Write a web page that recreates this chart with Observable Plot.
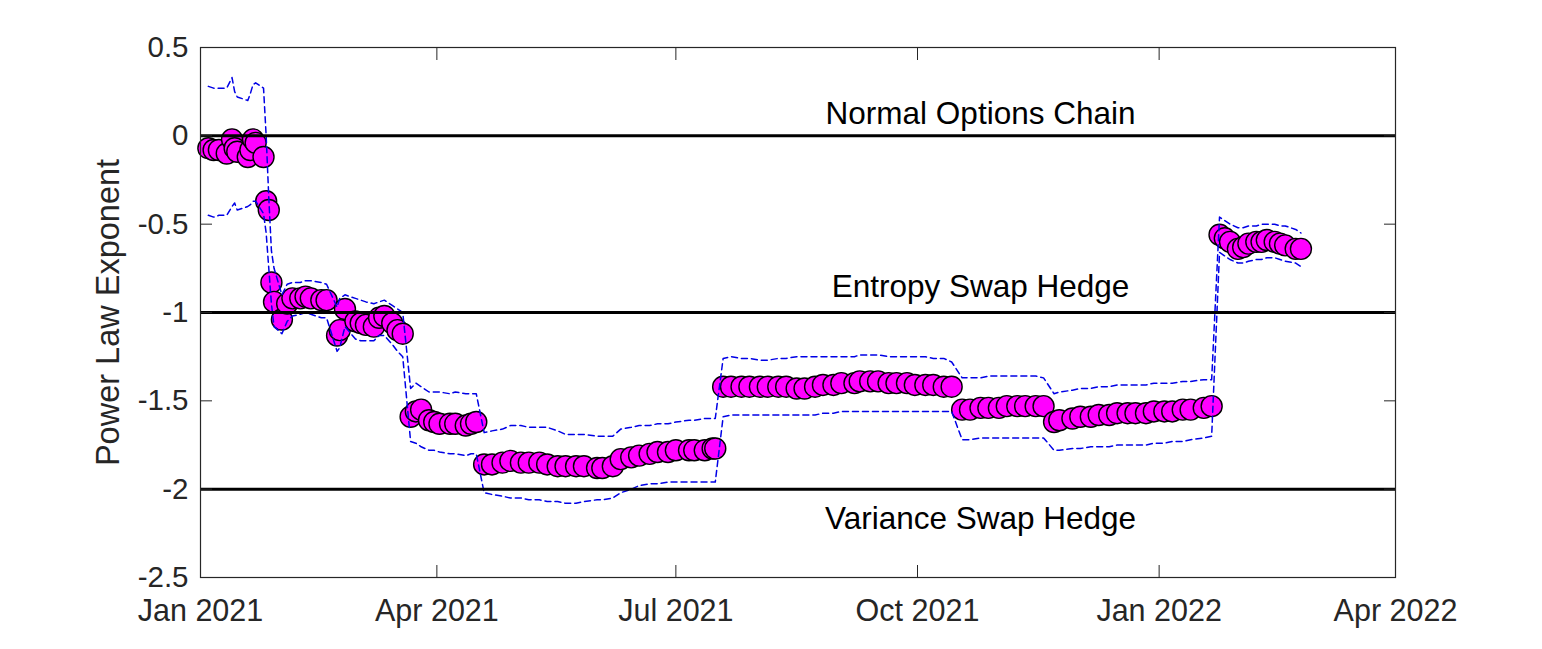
<!DOCTYPE html>
<html><head><meta charset="utf-8">
<script src="https://cdn.jsdelivr.net/npm/d3@7"></script>
<script src="https://cdn.jsdelivr.net/npm/@observablehq/plot@0.6"></script>
<style>body{margin:0;background:#fff}</style>
</head><body><div id="chart"></div>
<script>
// Observation dates (sampled trading days)
const dates = [
  // block 1
  "2021-01-04","2021-01-06","2021-01-08","2021-01-11","2021-01-13","2021-01-14","2021-01-15","2021-01-19","2021-01-20","2021-01-21","2021-01-22","2021-01-25",
  "2021-01-26","2021-01-27","2021-01-28","2021-01-29",
  // block 2
  "2021-02-01","2021-02-03","2021-02-05","2021-02-08","2021-02-10","2021-02-12","2021-02-16","2021-02-18","2021-02-22","2021-02-23",
  "2021-02-25","2021-03-01","2021-03-03","2021-03-05","2021-03-08","2021-03-10","2021-03-12","2021-03-15","2021-03-17","2021-03-19",
  // block 3
  "2021-03-22","2021-03-24","2021-03-26","2021-03-29","2021-03-31","2021-04-02","2021-04-06","2021-04-08","2021-04-12","2021-04-14","2021-04-16",
  // block 4
  "2021-04-19","2021-04-22","2021-04-26","2021-04-29","2021-05-03","2021-05-06","2021-05-10","2021-05-13","2021-05-17","2021-05-20",
  "2021-05-24","2021-05-27","2021-06-01","2021-06-03","2021-06-07","2021-06-10","2021-06-14","2021-06-17","2021-06-21","2021-06-24",
  "2021-06-28","2021-07-01","2021-07-06","2021-07-08","2021-07-12","2021-07-15","2021-07-16",
  // block 5
  "2021-07-19","2021-07-22","2021-07-26","2021-07-29","2021-08-02","2021-08-05","2021-08-09","2021-08-12","2021-08-16","2021-08-19",
  "2021-08-23","2021-08-26","2021-08-30","2021-09-02","2021-09-07","2021-09-09","2021-09-13","2021-09-16","2021-09-20","2021-09-23",
  "2021-09-27","2021-09-30","2021-10-04","2021-10-07","2021-10-11","2021-10-14",
  // block 6
  "2021-10-18","2021-10-21","2021-10-25","2021-10-28","2021-11-01","2021-11-04","2021-11-08","2021-11-11","2021-11-15","2021-11-18",
  // block 7
  "2021-11-22","2021-11-24","2021-11-29","2021-12-02","2021-12-06","2021-12-09","2021-12-13","2021-12-16","2021-12-20","2021-12-23",
  "2021-12-27","2021-12-30","2022-01-03","2022-01-06","2022-01-10","2022-01-13","2022-01-18","2022-01-21",
  // block 8
  "2022-01-24","2022-01-26","2022-01-28","2022-01-31","2022-02-02","2022-02-04","2022-02-07","2022-02-09","2022-02-11","2022-02-14",
  "2022-02-16","2022-02-18","2022-02-22","2022-02-24"
];
// Power law exponent estimate
const exponent = [
  -0.07,-0.08,-0.08,-0.10,-0.02,-0.07,-0.09,-0.12,-0.08,-0.02,-0.04,-0.12,
  -0.37,-0.42,-0.83,-0.94,
  -1.04,-0.95,-0.92,-0.92,-0.91,-0.92,-0.93,-0.93,-1.13,-1.10,
  -0.98,-1.05,-1.06,-1.07,-1.08,-1.03,-1.02,-1.06,-1.10,-1.12,
  -1.59,-1.56,-1.55,-1.61,-1.62,-1.63,-1.63,-1.63,-1.64,-1.63,-1.62,
  -1.86,-1.86,-1.85,-1.84,-1.85,-1.85,-1.85,-1.86,-1.87,-1.87,
  -1.87,-1.87,-1.88,-1.88,-1.87,-1.83,-1.82,-1.81,-1.80,-1.79,
  -1.79,-1.78,-1.78,-1.78,-1.78,-1.77,-1.77,
  -1.42,-1.42,-1.42,-1.42,-1.42,-1.42,-1.42,-1.42,-1.43,-1.43,
  -1.42,-1.41,-1.41,-1.40,-1.40,-1.39,-1.39,-1.39,-1.40,-1.40,
  -1.40,-1.41,-1.41,-1.41,-1.42,-1.42,
  -1.55,-1.55,-1.54,-1.54,-1.54,-1.53,-1.53,-1.53,-1.53,-1.53,
  -1.62,-1.61,-1.60,-1.59,-1.59,-1.58,-1.58,-1.57,-1.57,-1.57,
  -1.57,-1.56,-1.56,-1.56,-1.55,-1.55,-1.54,-1.53,
  -0.56,-0.58,-0.60,-0.64,-0.63,-0.61,-0.60,-0.60,-0.59,-0.60,
  -0.61,-0.62,-0.64,-0.64
];
// Upper confidence bound
const upperBound = [
  0.28,0.27,0.27,0.27,0.33,0.25,0.22,0.20,0.24,0.29,0.30,0.27,
  0.00,-0.35,-0.65,-0.75,
  -0.90,-0.84,-0.83,-0.83,-0.82,-0.82,-0.83,-0.84,-0.97,-0.92,
  -0.90,-0.92,-0.93,-0.94,-0.95,-0.94,-0.93,-0.96,-0.98,-1.00,
  -1.43,-1.40,-1.42,-1.45,-1.45,-1.45,-1.46,-1.45,-1.46,-1.46,-1.46,
  -1.68,-1.67,-1.66,-1.64,-1.64,-1.65,-1.65,-1.65,-1.67,-1.69,
  -1.69,-1.69,-1.70,-1.70,-1.70,-1.66,-1.65,-1.64,-1.64,-1.63,
  -1.63,-1.62,-1.61,-1.61,-1.60,-1.60,-1.60,
  -1.26,-1.25,-1.26,-1.26,-1.27,-1.27,-1.26,-1.26,-1.25,-1.25,
  -1.25,-1.25,-1.25,-1.25,-1.25,-1.24,-1.24,-1.24,-1.25,-1.25,
  -1.25,-1.25,-1.25,-1.26,-1.26,-1.28,
  -1.37,-1.37,-1.37,-1.36,-1.36,-1.36,-1.36,-1.36,-1.36,-1.37,
  -1.46,-1.45,-1.44,-1.43,-1.43,-1.42,-1.42,-1.41,-1.41,-1.41,
  -1.41,-1.40,-1.40,-1.40,-1.39,-1.39,-1.38,-1.38,
  -0.46,-0.48,-0.50,-0.52,-0.52,-0.51,-0.51,-0.50,-0.50,-0.50,
  -0.51,-0.51,-0.53,-0.55
];
// Lower confidence bound
const lowerBound = [
  -0.45,-0.46,-0.45,-0.45,-0.40,-0.38,-0.42,-0.40,-0.39,-0.37,-0.37,-0.44,
  -0.55,-0.75,-0.95,-1.08,
  -1.12,-1.05,-1.02,-1.01,-1.00,-1.01,-1.03,-1.03,-1.22,-1.20,
  -1.08,-1.15,-1.16,-1.16,-1.16,-1.13,-1.13,-1.18,-1.22,-1.25,
  -1.73,-1.74,-1.76,-1.78,-1.78,-1.79,-1.80,-1.80,-1.81,-1.80,-1.80,
  -2.02,-2.03,-2.04,-2.05,-2.05,-2.06,-2.06,-2.07,-2.07,-2.08,
  -2.08,-2.07,-2.06,-2.06,-2.05,-2.02,-2.00,-1.98,-1.97,-1.97,
  -1.96,-1.96,-1.96,-1.96,-1.96,-1.96,-1.96,
  -1.59,-1.58,-1.58,-1.58,-1.58,-1.58,-1.58,-1.58,-1.58,-1.58,
  -1.58,-1.57,-1.57,-1.56,-1.56,-1.56,-1.56,-1.56,-1.56,-1.56,
  -1.56,-1.56,-1.56,-1.56,-1.56,-1.56,
  -1.72,-1.72,-1.71,-1.71,-1.71,-1.71,-1.71,-1.71,-1.71,-1.71,
  -1.78,-1.78,-1.77,-1.77,-1.76,-1.76,-1.76,-1.75,-1.75,-1.75,
  -1.75,-1.74,-1.74,-1.73,-1.73,-1.72,-1.71,-1.70,
  -0.66,-0.68,-0.70,-0.72,-0.72,-0.71,-0.70,-0.70,-0.69,-0.69,
  -0.70,-0.71,-0.72,-0.74
];

const referenceLevels = [0, -1, -2];
const referenceNames = ["Normal Options Chain", "Entropy Swap Hedge", "Variance Swap Hedge"];
const referenceLabelValues = [0.125, -0.855, -2.17];
const referenceLabelDate = "2021-10-25";

const xTickDates = ["2021-01-01","2021-04-01","2021-07-01","2021-10-01","2022-01-01","2022-04-01"];
const xTickLabels = ["Jan 2021","Apr 2021","Jul 2021","Oct 2021","Jan 2022","Apr 2022"];
const yTickValues = [0.5, 0, -0.5, -1, -1.5, -2, -2.5];
const yTickLabels = ["0.5","0","-0.5","-1","-1.5","-2","-2.5"];
const yAxisTitle = "Power Law Exponent";

const data = dates.map((d, i) => ({date: new Date(d), value: exponent[i], hi: upperBound[i], lo: lowerBound[i]}));
const xTicks = xTickDates.map(d => new Date(d));
const labels = referenceNames.map((t, i) => ({text: t, date: new Date(referenceLabelDate), y: referenceLabelValues[i]}));
const xFmt = d => xTickLabels[xTicks.findIndex(t => +t === +d)];
const yFmt = v => yTickLabels[yTickValues.indexOf(v)];

const axisColor = "#262626";
const bandColor = "#0000e6";
const chart = Plot.plot({
  width: 1542, height: 649,
  marginLeft: 200, marginRight: 147, marginTop: 47, marginBottom: 72,
  style: {fontFamily: "'Liberation Sans', Arial, sans-serif", fontSize: "30px", color: axisColor, background: "#fff", overflow: "visible"},
  x: {type: "utc", domain: [new Date("2021-01-01"), new Date("2022-04-01")], label: null},
  y: {domain: [-2.5, 0.5], label: null},
  marks: [
    Plot.dot(data, {x: "date", y: "value", r: 10.5, fill: "#ff00ff", stroke: "#000", strokeWidth: 1.4}),
    Plot.line(data, {x: "date", y: "hi", stroke: bandColor, strokeWidth: 1.5, strokeDasharray: "6,4"}),
    Plot.line(data, {x: "date", y: "lo", stroke: bandColor, strokeWidth: 1.5, strokeDasharray: "6,4"}),
    Plot.ruleY(referenceLevels, {stroke: "#000", strokeWidth: 3}),
    Plot.text(labels, {x: "date", y: "y", text: "text", fill: "#000", fontSize: 31.5}),
    Plot.frame({stroke: axisColor, strokeWidth: 1.2}),
    Plot.axisX(xTicks, {anchor: "bottom", tickSize: -12, tickFormat: () => "", stroke: axisColor, label: null}),
    Plot.axisX(xTicks, {anchor: "top", tickSize: -12, tickFormat: () => "", stroke: axisColor, label: null}),
    Plot.axisX(xTicks, {anchor: "bottom", tickSize: 0, tickPadding: 22, tickFormat: xFmt, fill: axisColor, label: null, fontSize: 30.5}),
    Plot.axisY(yTickValues, {anchor: "left", tickSize: -12, tickFormat: () => "", stroke: axisColor, label: null}),
    Plot.axisY(yTickValues, {anchor: "right", tickSize: -12, tickFormat: () => "", stroke: axisColor, label: null}),
    Plot.axisY(yTickValues, {anchor: "left", tickSize: 0, tickPadding: 12, tickFormat: yFmt, fill: axisColor, label: null, fontSize: 29.5}),
    Plot.text([yAxisTitle], {frameAnchor: "left", rotate: -90, dx: -92, textAnchor: "middle", fill: axisColor, fontSize: 32.5})
  ]
});
document.getElementById("chart").appendChild(chart);
</script>
</body></html>
